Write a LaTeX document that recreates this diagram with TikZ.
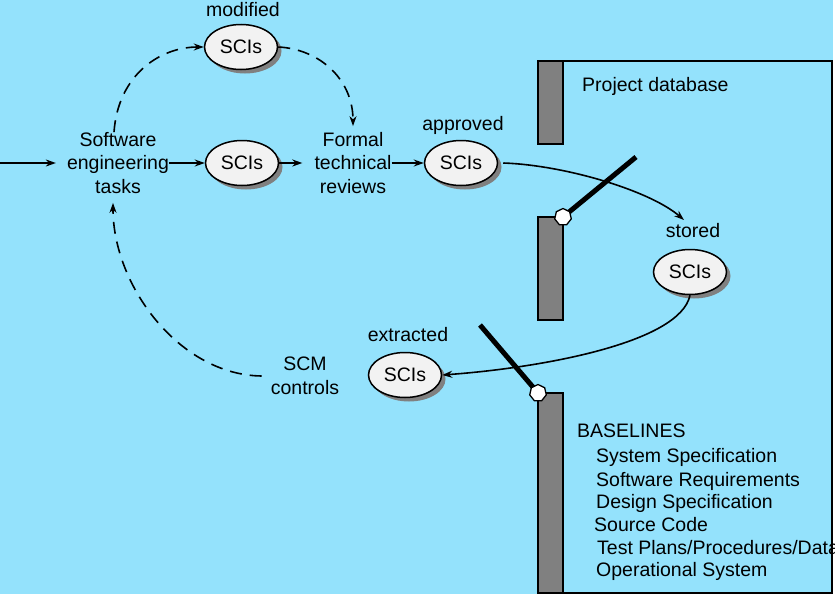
\documentclass[tikz,border=0pt]{standalone}
\usepackage{fontspec}
\setmainfont{Liberation Sans}
\usetikzlibrary{arrows.meta,shapes.geometric,shadows}
\definecolor{bgblue}{RGB}{148,226,252}
\definecolor{scifill}{RGB}{242,242,242}
\definecolor{shadowgray}{RGB}{128,128,128}
\definecolor{bargray}{RGB}{128,128,128}
\begin{document}
\begin{tikzpicture}[x=1pt,y=-1pt,
  every node/.style={font=\fontsize{19.5}{23.5}\selectfont, inner sep=0pt},
  sci/.style={ellipse,draw,line width=1.5pt,fill=scifill,minimum width=73pt,minimum height=45pt,
    drop shadow={shadow xshift=4pt,shadow yshift=-4pt,fill=shadowgray,opacity=1}},
  lbl/.style={align=center},
  conn/.style={line width=1.6pt,-{Stealth[length=10pt,width=7pt]}},
  dconn/.style={conn,dash pattern=on 12pt off 8pt},
  bar/.style={draw,line width=1.5pt,fill=bargray},
  gate/.style={regular polygon,regular polygon sides=7,draw,fill=white,line width=1.3pt,minimum size=17pt},
  stick/.style={line width=5pt},
  item/.style={anchor=base west}]
\useasboundingbox (0,0) rectangle (835,597);
\fill[bgblue] (0,0) rectangle (833,594);
% database box
\draw[line width=1.5pt] (537,61) -- (832,61) -- (832,593) -- (537,593);
\draw[bar] (538,61) rectangle (563,144);
\draw[bar] (538,217) rectangle (563,320);
\draw[bar] (538,393) rectangle (563,593);
% text nodes
\node[lbl] (se) at (118,163) {Software\\engineering\\tasks};
\node[lbl] (ftr) at (353,163) {Formal\\technical\\reviews};
\node[lbl] (scm) at (305,376) {SCM\\controls};
\node[sci] (s1) at (241,47) {SCIs};
\node[sci] (s2) at (242,163) {SCIs};
\node[sci] (s3) at (461,163) {SCIs};
\node[sci] (s4) at (690,272) {SCIs};
\node[sci] (s5) at (405,375) {SCIs};
\node (lmod) at (243,10) {modified};
\node (lapp) at (463,125) {approved};
\node (lsto) at (693,231) {stored};
\node (lext) at (408,335) {extracted};
% connectors
\coordinate (in) at (0,163);
\coordinate (tst) at (684,220);
\draw[conn] (in) -- ([xshift=-11pt]se.west);
\draw[conn] (se.east) -- (s2.west);
\draw[conn] (s2.east) -- ([xshift=-12pt]ftr.west);
\draw[conn] (ftr.east) -- (s3.west);
\draw[conn] ([xshift=5pt]s3.east) .. controls +(60,2) and +(-35,-30) .. (tst);
\draw[conn] (s4.south) .. controls +(-10,48) and +(97,-7) .. (s5.east);
\draw[dconn] ([xshift=-4pt]se.north) .. controls +(4,-57) and +(-44,0) .. (s1.west);
\draw[dconn] (s1.east) .. controls +(41,2) and +(0,-47) .. ([yshift=6pt]ftr.north);
\draw[dconn] ([xshift=-9pt]scm.west) .. controls +(-82,-1) and +(0,83) .. ([xshift=-5pt,yshift=-9pt]se.south);
% gates
\coordinate (g1e) at (636,157);
\coordinate (g1c) at (563,217);
\coordinate (g2e) at (480,325);
\coordinate (g2c) at (538,393);
\draw[stick] (g1e) -- (g1c);
\draw[stick] (g2e) -- (g2c);
\node[gate] (g1) at (g1c) {};
\node[gate] (g2) at (g2c) {};
% panel text
\node[item] (pd) at (582,91) {Project database};
\node[item] (bl) at (577,437) {BASELINES};
\node[item] (b1) at (596,462) {System Specification};
\node[item] (b2) at (596,486) {Software Requirements};
\node[item] (b3) at (596,508) {Design Specification};
\node[item] (b4) at (594,531) {Source Code};
\node[item] (b5) at (597,554) {Test Plans/Procedures/Data};
\node[item] (b6) at (596,576) {Operational System};
\end{tikzpicture}
\end{document}
